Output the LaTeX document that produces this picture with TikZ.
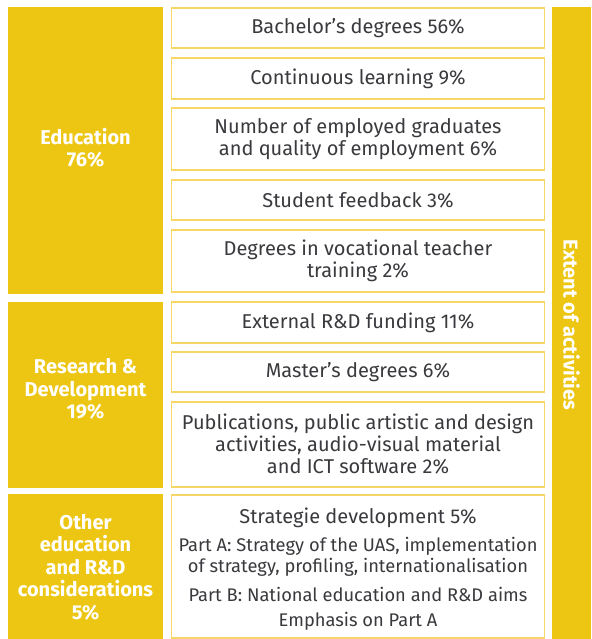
\documentclass[tikz,border=0pt]{standalone}
\usepackage{fontspec}
\setmainfont{Fira Sans}
\usetikzlibrary{positioning}
\definecolor{uasyellow}{RGB}{237,198,20}
\definecolor{boxline}{RGB}{246,214,102}
\definecolor{txtgray}{RGB}{58,58,62}
\tikzstyle{area}=[fill=uasyellow,text=white,align=center,inner sep=0pt,font=\bfseries\fontsize{20}{22.5}\selectfont]
\tikzstyle{item}=[draw=boxline,line width=1.3pt,fill=white,text=txtgray,align=center,inner sep=0pt,minimum width=373pt,font=\fontsize{20}{22}\selectfont]
\tikzstyle{note}=[text=txtgray,align=center,inner sep=0pt,font=\fontsize{18.3}{21}\selectfont]

\begin{document}
\begin{tikzpicture}[x=1pt,y=-1pt]
    \useasboundingbox (0,0) rectangle (591,639);
    % the three areas on the left
    \node[area,minimum width=155pt,minimum height=287pt] (edu) at (85.5,150.5) {};
    \node[area,minimum width=155pt,minimum height=186pt] (rnd) at (85.5,395) {};
    \node[area,minimum width=155pt,minimum height=145pt] (other) at (85.5,566.5) {};
    \node[area] (edutext) at (85.5,148) {Education\\76\%};
    \node[area] (rndtext) at (85.5,389) {Research \&\\Development\\19\%};
    \node[area] (othertext) at (85.5,567) {Other\\education\\and R\&D\\considerations\\5\%};
    % the bar on the right
    \node[area,minimum width=39pt,minimum height=632pt] (bar) at (571.5,323) {};
    \node[area,rotate=-90] (bartext) at (571.5,325) {Extent of activities};
    % the items of each area
    \foreach \pos/\h/\name/\txt in {
        {(358,28)/40/bach/Bachelor's degrees 56\%},
        {(358,78.5)/41/cont/Continuous learning 9\%},
        {(358,139)/62/empl/Number of employed graduates\\and quality of employment 6\%},
        {(358,200)/40/feed/Student feedback 3\%},
        {(358,261)/62/voc/Degrees in vocational teacher\\training 2\%},
        {(358,322.5)/41/ext/External R\&D funding 11\%},
        {(358,372)/40/mast/Master's degrees 6\%},
        {(358,444.5)/85/publ/Publications, public artistic and design\\activities, audio-visual material\\and ICT software 2\%}}
        \node[item,minimum height=\h pt] (\name) at \pos {\txt};
    \node[item,minimum height=143pt] (strat) at (358,566.5) {};
    \node[item,draw=none,fill=none] (strattitle) at (358,518) {Strategie development 5\%};
    \node[note] (parta) at (358,557) {Part A: Strategy of the UAS, implementation\\of strategy, profiling, internationalisation};
    \node[note] (partb) at (358,594) {Part B: National education and R\&D aims};
    \node[note] (emph) at (358,621) {Emphasis on Part A};
\end{tikzpicture}
\end{document}
